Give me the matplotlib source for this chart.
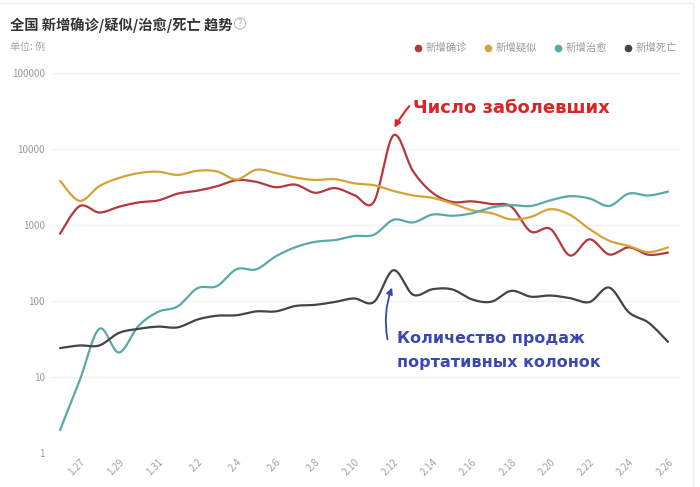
import numpy as np
import matplotlib
matplotlib.use('Agg')
import matplotlib.pyplot as plt
from matplotlib.lines import Line2D
from matplotlib.patches import Rectangle, FancyArrowPatch
from matplotlib.ticker import FixedLocator, NullLocator

plt.rcParams['font.family'] = ['Noto Sans CJK SC', 'DejaVu Sans']

# ---------------- data ----------------
dates = ['1.26', '1.27', '1.28', '1.29', '1.30', '1.31',
         '2.1', '2.2', '2.3', '2.4', '2.5', '2.6', '2.7', '2.8', '2.9', '2.10',
         '2.11', '2.12', '2.13', '2.14', '2.15', '2.16', '2.17', '2.18', '2.19',
         '2.20', '2.21', '2.22', '2.23', '2.24', '2.25', '2.26']
confirmed = [769, 1771, 1459, 1737, 1982, 2102, 2590, 2829, 3235, 3887, 3694,
             3143, 3399, 2656, 3062, 2478, 2015, 15152, 5090, 2641, 2009, 2048,
             1886, 1749, 820, 889, 397, 648, 409, 508, 406, 433]
suspected = [3806, 2077, 3248, 4148, 4812, 5019, 4562, 5173, 5072, 3971, 5328,
             4833, 4214, 3916, 4008, 3536, 3342, 2807, 2450, 2277, 1918, 1563,
             1432, 1185, 1277, 1614, 1361, 882, 620, 530, 439, 508]
cured = [2, 9, 43, 21, 47, 72, 85, 147, 157, 262, 261, 387, 510, 600, 632, 716,
         744, 1171, 1081, 1373, 1323, 1425, 1701, 1824, 1779, 2109, 2393, 2231,
         1783, 2589, 2441, 2750]
deaths = [24, 26, 26, 38, 43, 46, 45, 57, 64, 65, 73, 73, 86, 89, 97, 108, 97,
          254, 121, 143, 142, 105, 98, 136, 114, 118, 109, 97, 150, 71, 52, 29]
series_names = ['新增确诊', '新增疑似', '新增治愈', '新增死亡']
y_ticks = [1, 10, 100, 1000, 10000, 100000]
x_tick_labels = dates[1::2]

colors = ['#b5383d', '#d6a23a', '#57aaa5', '#444444']

W, H = 700, 487
fig = plt.figure(figsize=(W / 100, H / 100), dpi=100)


def fx(px):
    return px / W


def fy(py):
    return 1 - py / H


# card border
fig.add_artist(Rectangle((fx(-10), fy(500)), fx(693) - fx(-10), fy(3) - fy(500),
                         transform=fig.transFigure, fill=False,
                         edgecolor='#ececec', lw=1.0))

ax = fig.add_axes([fx(52), fy(453), fx(680) - fx(52), fy(73) - fy(453)])
ax.set_yscale('log')
ax.set_ylim(1, 1e5)
ax.set_xlim(-0.41, 31.61)
for s in ax.spines.values():
    s.set_visible(False)


def catmull(xs, ys, n=20):
    P = np.column_stack([np.asarray(xs, float), np.asarray(ys, float)])
    P = np.vstack([P[0], P, P[-1]])
    out = []
    t = np.linspace(0, 1, n, endpoint=False)[:, None]
    for k in range(1, len(P) - 2):
        p0, p1, p2, p3 = P[k - 1], P[k], P[k + 1], P[k + 2]
        seg = 0.5 * ((2 * p1) + (-p0 + p2) * t
                     + (2 * p0 - 5 * p1 + 4 * p2 - p3) * t ** 2
                     + (-p0 + 3 * p1 - 3 * p2 + p3) * t ** 3)
        out.append(seg)
    out.append(P[-2][None, :])
    return np.vstack(out)


x_idx = np.arange(len(dates))
for vals, c in zip([confirmed, suspected, cured, deaths], colors):
    pts = catmull(x_idx, np.log10(vals))
    ax.plot(pts[:, 0], 10 ** pts[:, 1], color=c, lw=1.6, solid_capstyle='round',
            zorder=3)

ax.yaxis.set_major_locator(FixedLocator(y_ticks))
ax.yaxis.set_minor_locator(NullLocator())
ax.set_yticklabels([str(v) for v in y_ticks])
ax.yaxis.grid(True, color='#f0f0f0', lw=0.9)
ax.xaxis.grid(False)
ax.set_axisbelow(True)
ax.tick_params(axis='y', length=0, pad=5, labelsize=7, labelcolor='#9a9a9a')

ax.set_xticks(x_idx[1::2])
ax.set_xticklabels(x_tick_labels, rotation=45, ha='right', va='top',
                   rotation_mode='anchor')
ax.tick_params(axis='x', length=0, pad=3, labelsize=7, labelcolor='#a0a0a0')

# title and unit
fig.text(fx(10), fy(25), '全国 新增确诊/疑似/治愈/死亡 趋势', fontsize=10.3,
         fontweight='bold', color='#333333', ha='left', va='center')
fig.text(fx(240), fy(23.5), '?', fontsize=6.5, color='#aaaaaa', ha='center',
         va='center',
         bbox=dict(boxstyle='circle,pad=0.12', fc='white', ec='#bbbbbb', lw=0.8))
fig.text(fx(10), fy(47), '单位: 例', fontsize=7.2, color='#a5a5a5',
         ha='left', va='center')

# legend
leg_dot_x = [418, 488, 558, 628]
for name, c, dx in zip(series_names, colors, leg_dot_x):
    fig.add_artist(Line2D([fx(dx)], [fy(48)], marker='o', markersize=4.5,
                          color=c, transform=fig.transFigure, lw=0))
    fig.text(fx(dx + 8), fy(48), name, fontsize=7.5, color='#9a9a9a',
             ha='left', va='center')

# annotations
fig.text(fx(413), fy(108), 'Число заболевших', fontsize=13,
         fontweight='bold', color='#d92525', ha='left', va='center',
         family='DejaVu Sans')
fig.add_artist(FancyArrowPatch((fx(411), fy(104)), (fx(393), fy(130)),
                               transform=fig.transFigure,
                               arrowstyle='-|>', mutation_scale=9,
                               color='#d92525', lw=1.5,
                               connectionstyle='arc3,rad=0.05'))

fig.text(fx(397), fy(338), 'Количество продаж', fontsize=11.5,
         fontweight='bold', color='#3b47b3', ha='left', va='center',
         family='DejaVu Sans')
fig.text(fx(397), fy(362), 'портативных колонок', fontsize=11.5,
         fontweight='bold', color='#3b47b3', ha='left', va='center',
         family='DejaVu Sans')
fig.add_artist(FancyArrowPatch((fx(388), fy(342)), (fx(393), fy(285)),
                               transform=fig.transFigure,
                               arrowstyle='-|>', mutation_scale=9,
                               color='#3b47b3', lw=1.3,
                               connectionstyle='arc3,rad=-0.15'))

fig.savefig('out.png', dpi=100)
